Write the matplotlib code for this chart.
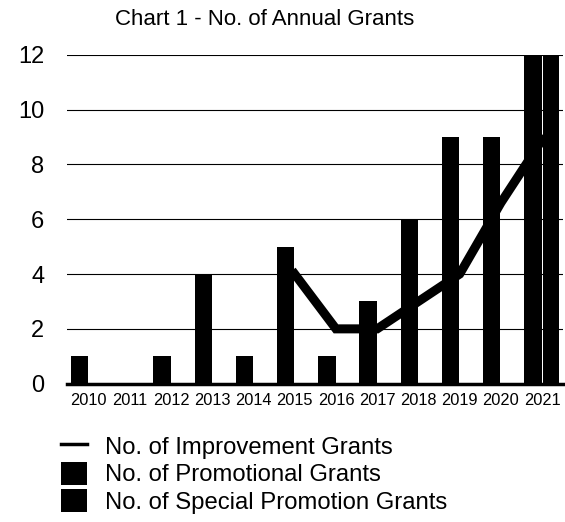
import numpy as np
import matplotlib.pyplot as plt
from matplotlib.lines import Line2D
from matplotlib.patches import Patch

plt.rcParams['font.family'] = ['Liberation Sans', 'DejaVu Sans']

years = [2010, 2011, 2012, 2013, 2014, 2015, 2016, 2017, 2018, 2019, 2020, 2021]
promotional = [1, 0, 1, 4, 1, 5, 1, 3, 6, 9, 9, 12]
special = [0, 0, 0, 0, 0, 0, 0, 0, 0, 0, 0, 12]
improve_years = [2015, 2016, 2017, 2018, 2019, 2020, 2021]
improvement = [4, 2, 2, 3, 4, 6.6, 8.9]

fig = plt.figure(figsize=(5.65, 5.22), dpi=100)
ax = fig.add_axes([0.118, 0.265, 0.878, 0.63])

x = np.array(years)
ax.bar(x - 0.22, promotional, width=0.42, color='black', zorder=2)
ax.bar(x + 0.22, special, width=0.40, color='black', zorder=2)
ax.plot(improve_years, improvement, color='black', lw=6.5, zorder=3,
        solid_joinstyle='miter')

ax.set_xlim(2009.47, 2021.5)
ax.set_ylim(0, 12)
ax.set_yticks(range(0, 13, 2))
ax.set_xticks(years)
ax.set_xticklabels([str(y) for y in years], fontsize=11.8)
ax.tick_params(axis='y', labelsize=17, length=0, pad=16)
ax.tick_params(axis='x', length=0, pad=7)
ax.yaxis.grid(True, color='black', lw=0.8, zorder=0)
ax.set_axisbelow(True)
for s in ['top', 'right', 'left']:
    ax.spines[s].set_visible(False)
ax.spines['bottom'].set_linewidth(2.5)

fig.suptitle("Chart 1 - No. of Annual Grants", fontsize=16, x=0.469, y=0.983)

handles = [Line2D([0], [0], color='black', lw=2.5),
           Patch(facecolor='black'),
           Patch(facecolor='black')]
labels = ["No. of Improvement Grants", "No. of Promotional Grants",
          "No. of Special Promotion Grants"]
fig.legend(handles, labels, loc='upper left', bbox_to_anchor=(0.108, 0.168),
           frameon=False, fontsize=17.2, handlelength=1.1, handleheight=1.1,
           handletextpad=0.75, labelspacing=0.12, borderpad=0, borderaxespad=0)

fig.savefig("out.png")
